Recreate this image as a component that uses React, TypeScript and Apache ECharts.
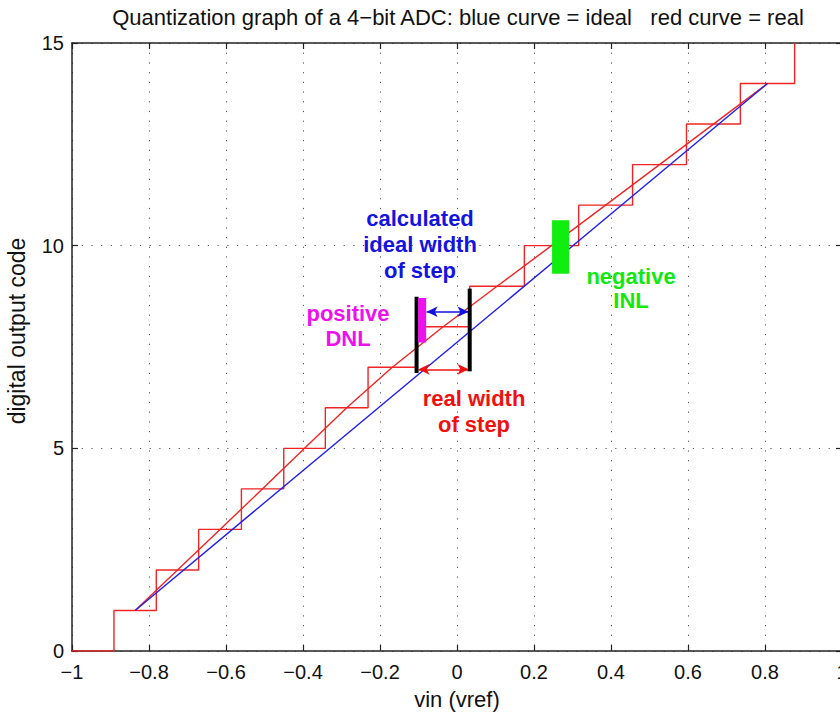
import React, { useEffect, useRef } from "react";
import * as echarts from "echarts";

// Real transition voltages (code k-1 -> k), k = 1..15
const transitions = [-0.891, -0.781, -0.671, -0.56, -0.45, -0.342, -0.231, -0.105, 0.033, 0.175, 0.316, 0.456, 0.596, 0.736, 0.877];
const codes = [0, 1, 2, 3, 4, 5, 6, 7, 8, 9, 10, 11, 12, 13, 14, 15];
const xTicks = [-1, -0.8, -0.6, -0.4, -0.2, 0, 0.2, 0.4, 0.6, 0.8, 1];
const yTicks = [0, 5, 10, 15];

// annotation marks (data coords)
const dnlLeftBar = [[-0.105, 6.86], [-0.105, 8.74]];
const dnlRightBar = [[0.033, 6.9], [0.033, 8.94]];
const dnlMagenta = [[-0.0905, 7.61], [-0.0905, 8.71]];
const idealArrow = [[-0.079, 8.37], [0.03, 8.37]];
const realArrow = [[-0.1, 6.95], [0.03, 6.95]];
const inlGreen = [[0.269, 9.31], [0.269, 10.63]];

const FONT = '"Liberation Sans", Arial, Helvetica, sans-serif';

export default function App() {
  const ref = useRef<HTMLDivElement>(null);
  useEffect(() => {
    if (!ref.current) return;
    const chart = echarts.init(ref.current, undefined, { renderer: "svg" });

    const xMin = -1;
    const stairs: number[][] = [[xMin, codes[0]]];
    transitions.forEach((t, i) => {
      stairs.push([t, codes[i]]);
      stairs.push([t, codes[i + 1]]);
    });
    const mids: number[][] = [];
    for (let k = 1; k <= 14; k++) {
      mids.push([(transitions[k - 1] + transitions[k]) / 2, codes[k]]);
    }
    const ideal = [mids[0], mids[mids.length - 1]];

    const fmt = (v: number) => String(+v.toFixed(1)).replace("-", "\u2212");

    const dotted = { show: true, lineStyle: { color: "#555", width: 1, type: [1.2, 8.5] as any } };

    const barSeries = (data: number[][], color: string, width: number, z = 5) => ({
      type: "line",
      data,
      showSymbol: false,
      symbol: "none",
      silent: true,
      z,
      lineStyle: { color, width, cap: "butt" },
    });

    const arrowSeries = (pts: number[][], color: string) => ({
      type: "line",
      data: [],
      showSymbol: false,
      silent: true,
      z: 6,
      markLine: {
        silent: true,
        symbol: ["arrow", "arrow"],
        symbolSize: [8, 11],
        label: { show: false },
        lineStyle: { color, width: 1.6, type: "solid" },
        emphasis: { disabled: true },
        data: [[{ coord: pts[0] }, { coord: pts[1] }]],
      },
    });

    const txt = (text: string, x: number, y: number, color: string, bold = true, size = 22, lh = 26) => ({
      type: "text",
      x,
      y,
      silent: true,
      z: 100,
      style: {
        text,
        fill: color,
        font: `${bold ? "bold " : ""}${size}px ${FONT}`,
        align: "center",
        verticalAlign: "middle",
        textAlign: "center",
        textVerticalAlign: "middle",
        lineHeight: lh,
      },
    });

    const axisLine = { show: true, onZero: false, lineStyle: { color: "#222", width: 1.5 } };
    const axisTick = { show: true, inside: true, length: 6, lineStyle: { color: "#222", width: 1.2 } };

    chart.setOption({
      animation: false,
      backgroundColor: "#ffffff",
      grid: { left: 72, right: 18, top: 43, bottom: 61, containLabel: false },
      xAxis: [
        {
          type: "value",
          min: xTicks[0],
          max: xTicks[xTicks.length - 1],
          interval: 0.2,
          position: "bottom",
          axisLine,
          axisTick,
          axisLabel: { fontSize: 20, color: "#111", fontFamily: FONT, margin: 11, formatter: fmt, showMinLabel: true, showMaxLabel: true },
          splitLine: dotted,
        },
        {
          type: "value",
          min: xTicks[0],
          max: xTicks[xTicks.length - 1],
          interval: 0.2,
          position: "top",
          axisLine,
          axisTick,
          axisLabel: { show: false },
          splitLine: { show: false },
        },
      ],
      yAxis: [
        {
          type: "value",
          min: yTicks[0],
          max: yTicks[yTicks.length - 1],
          interval: 5,
          position: "left",
          axisLine,
          axisTick,
          axisLabel: { fontSize: 20, color: "#111", fontFamily: FONT, margin: 8 },
          splitLine: dotted,
        },
        {
          type: "value",
          min: yTicks[0],
          max: yTicks[yTicks.length - 1],
          interval: 5,
          position: "right",
          axisLine,
          axisTick,
          axisLabel: { show: false },
          splitLine: { show: false },
        },
      ],
      series: [
        { type: "line", data: stairs, showSymbol: false, symbol: "none", silent: true, z: 3, lineStyle: { color: "#f02424", width: 1.4 } },
        { type: "line", data: mids, showSymbol: false, symbol: "none", silent: true, z: 3, lineStyle: { color: "#f02424", width: 1.4 } },
        { type: "line", data: ideal, showSymbol: false, symbol: "none", silent: true, z: 3, lineStyle: { color: "#2020f0", width: 1.4 } },
        barSeries(dnlLeftBar, "#000000", 4),
        barSeries(dnlRightBar, "#000000", 4),
        barSeries(dnlMagenta, "#ee10ee", 8, 7),
        barSeries(inlGreen, "#10ee10", 17, 7),
        arrowSeries(idealArrow, "#1010e0"),
        arrowSeries(realArrow, "#f01010"),
      ],
      graphic: [
        txt("Quantization graph of a 4\u2212bit ADC: blue curve = ideal   red curve = real", 458, 17, "#111", false, 22),
        txt("calculated\nideal width\nof step", 420, 244, "#1414e0"),
        txt("positive\nDNL", 348, 326, "#ee10ee", true, 22, 25),
        txt("real width\nof step", 474, 411, "#f01010", true, 22, 26),
        txt("negative\nINL", 631, 288, "#10e810", true, 22, 24),
        {
          type: "text",
          x: 17,
          y: 331,
          rotation: Math.PI / 2,
          silent: true,
          style: {
            text: "digital output code",
            fill: "#111",
            font: `23px ${FONT}`,
            align: "center",
            verticalAlign: "middle",
            textAlign: "center",
            textVerticalAlign: "middle",
          },
        },
        txt("vin (vref)", 457, 699, "#111", false, 22),
      ],
    });
    return () => chart.dispose();
  }, []);
  return (
    <div style={{ position: "fixed", left: 0, top: 0, width: 840, height: 712, overflow: "hidden", background: "#fff" }}>
      <div ref={ref} style={{ width: 860, height: 712 }} />
    </div>
  );
}
